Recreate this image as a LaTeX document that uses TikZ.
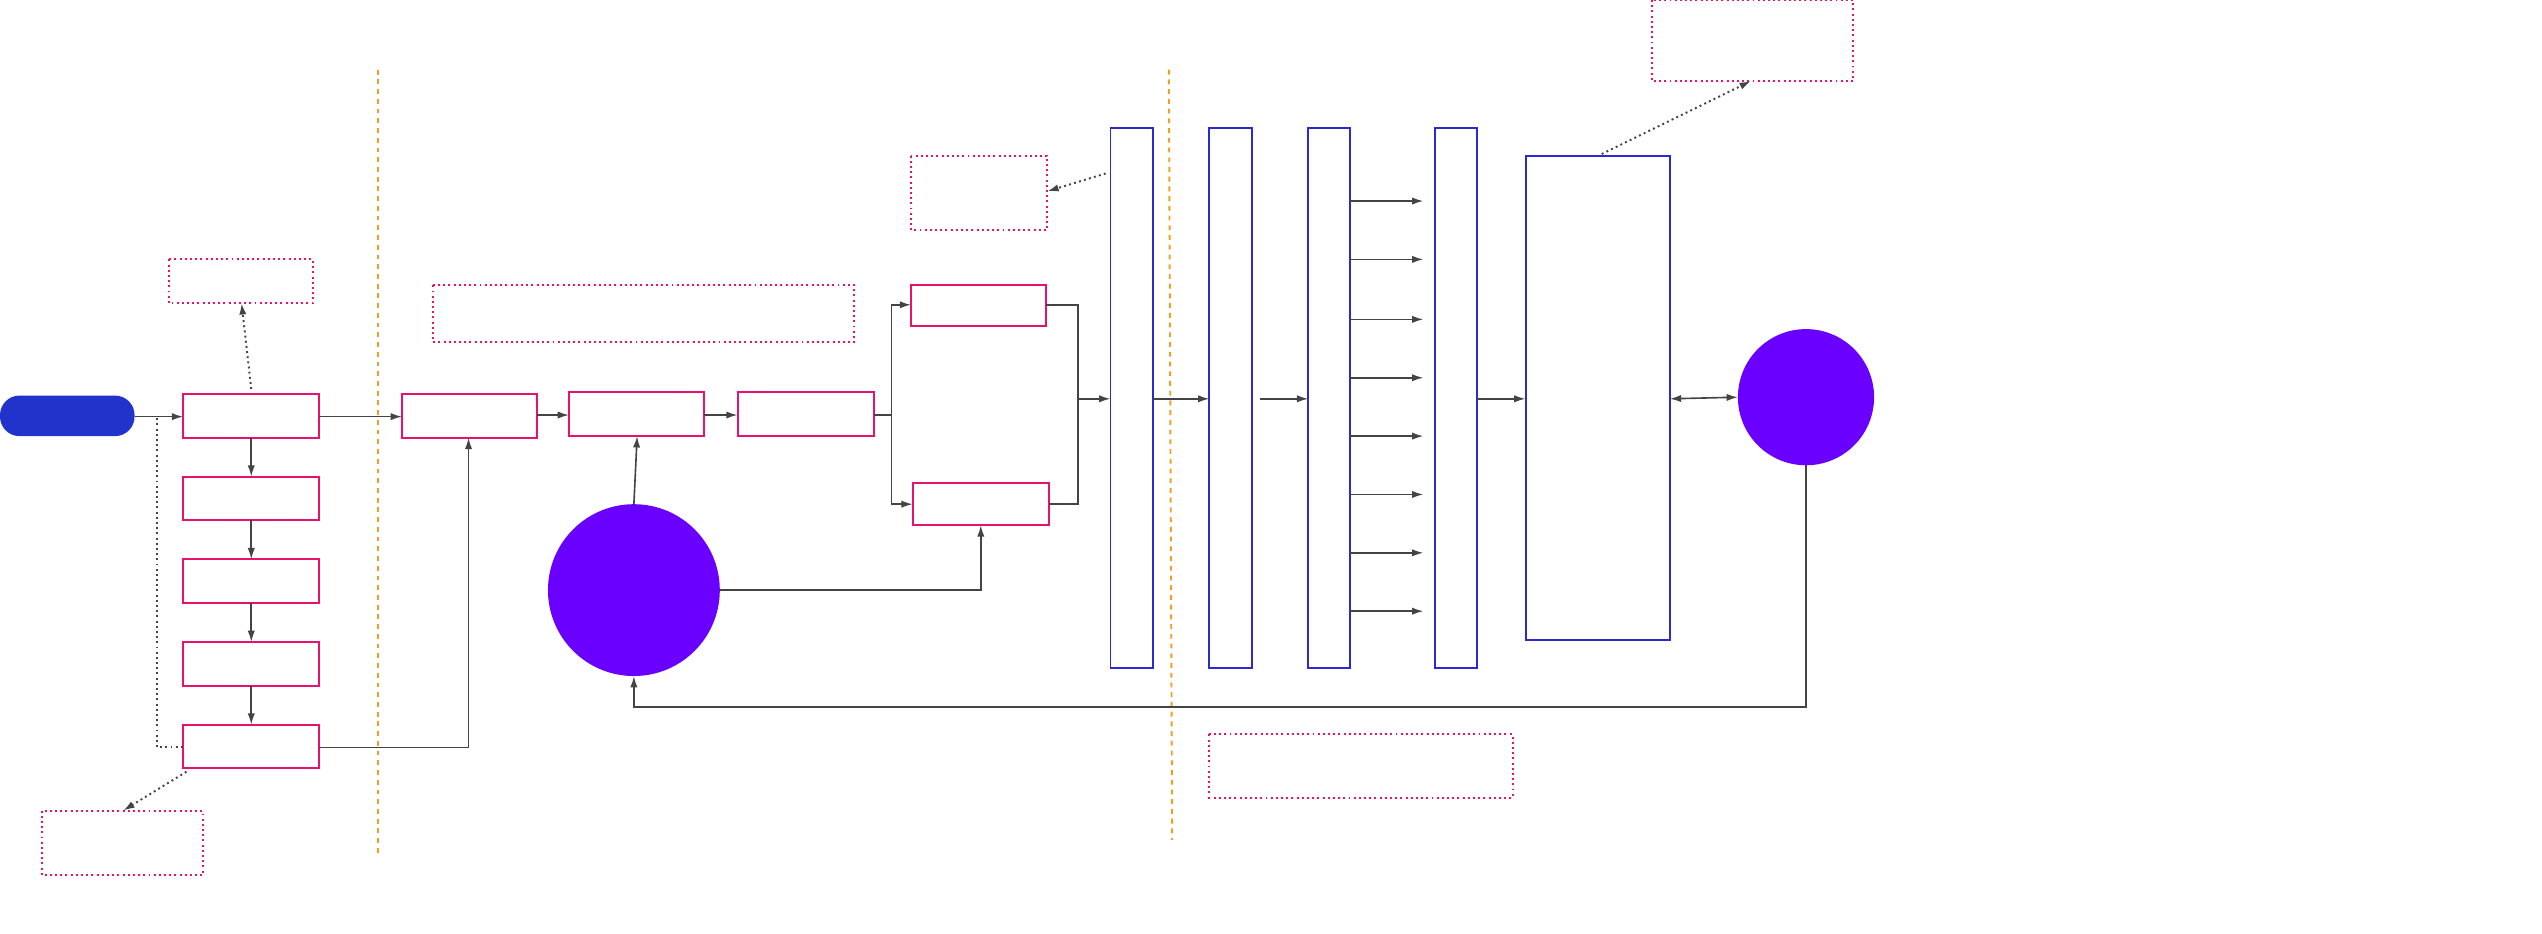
\documentclass[tikz,border=0pt]{standalone}
\usetikzlibrary{arrows.meta}
\definecolor{pinkc}{HTML}{E8126E}
\definecolor{bluec}{HTML}{2A2AD0}
\definecolor{pillc}{HTML}{2233CC}
\definecolor{violetc}{HTML}{6A00FF}
\definecolor{orangec}{HTML}{F0A020}
\definecolor{linec}{HTML}{444444}
\tikzset{
  box/.style={draw=pinkc,line width=1.2pt},
  note/.style={draw=pinkc,dotted,line width=1.2pt},
  bar/.style={draw=bluec,line width=1.2pt},
  arr/.style={draw=linec,line width=1pt,-{Latex[length=7pt,width=4.5pt]}},
  ln/.style={draw=linec,line width=1pt},
  dotarr/.style={draw=linec,dotted,line width=1.2pt,-{Latex[length=7pt,width=4.5pt]}},
  sep/.style={draw=orangec,dashed,line width=1.2pt}
}
\begin{document}
\begin{tikzpicture}[x=1pt,y=-1pt]
\useasboundingbox (0,0) rectangle (1568,576);

% start
\fill[pillc,rounded corners=12pt] (0,244) rectangle (83,269);
\coordinate (start) at (83,257);

% first column
\draw[box] (113,243) rectangle (197,270);
\foreach \y in {294,345,396,447}
  \draw[box] (113,\y) rectangle (197,\y+27);
\foreach \y in {270,321,372,423}
  \draw[arr] (155,\y) -- (155,\y+24);
\draw[arr] (start) -- (113,257);

% notes on the left
\draw[note] (104,160) rectangle (193,187);
\draw[dotarr] (155,240) -- (149,187);
\draw[note] (26,500) rectangle (125,540);
\draw[dotarr] (115,476) -- (76,500);
\draw[draw=linec,dotted,line width=1.2pt] (97,258) -- (97,461) -- (113,461);

\draw[sep] (233,43) -- (233,528);

% middle chain
\draw[box] (248,243) rectangle (331,270);
\draw[box] (351,242) rectangle (434,269);
\draw[box] (455,242) rectangle (539,269);
\draw[arr] (197,257) -- (248,257);
\draw[arr] (331,256) -- (351,256);
\draw[arr] (434,256) -- (455,256);
\draw[arr] (197,461) -| (289,270);
\draw[note] (267,176) rectangle (527,211);

% big circle
\fill[violetc] (391,364) circle (53);
\draw[arr] (391,311) -- (393,269);
\draw[arr] (444,364) -| (605,324);

% branch
\draw[box] (562,176) rectangle (645,201);
\draw[box] (563,298) rectangle (647,324);
\draw[ln] (539,256) -- (550,256);
\draw[arr] (550,256) |- (562,188);
\draw[arr] (550,256) |- (563,311);
\draw[ln] (645,188) -| (665,311) -- (647,311);
\draw[arr] (665,246) -- (685,246);
\draw[note] (562,96) rectangle (646,142);
\draw[dotarr] (682,107) -- (646,118);

% bars
\foreach \x in {685,746,807,885}
  \draw[bar] (\x,79) rectangle (\x+26,412);
\draw[arr] (711,246) -- (746,246);
\draw[arr] (777,246) -- (807,246);
\foreach \y in {124,160,197,233,269,305,341,377}
  \draw[arr] (833,\y) -- (878,\y);
\draw[arr] (911,246) -- (941,246);
\draw[bar] (941,96) rectangle (1030,395);

\draw[sep] (721,43) -- (723,518);
\draw[note] (746,453) rectangle (933,492);
\draw[note] (1019,0) rectangle (1143,50);
\draw[dotarr] (988,95) -- (1080,50);

% right circle
\fill[violetc] (1114,245) circle (42);
\draw[draw=linec,line width=1pt,{Latex[length=7pt,width=4.5pt]}-{Latex[length=7pt,width=4.5pt]}] (1030,246) -- (1072,245);
\draw[arr] (1114,287) -- (1114,436) -| (391,417);
\end{tikzpicture}
\end{document}
